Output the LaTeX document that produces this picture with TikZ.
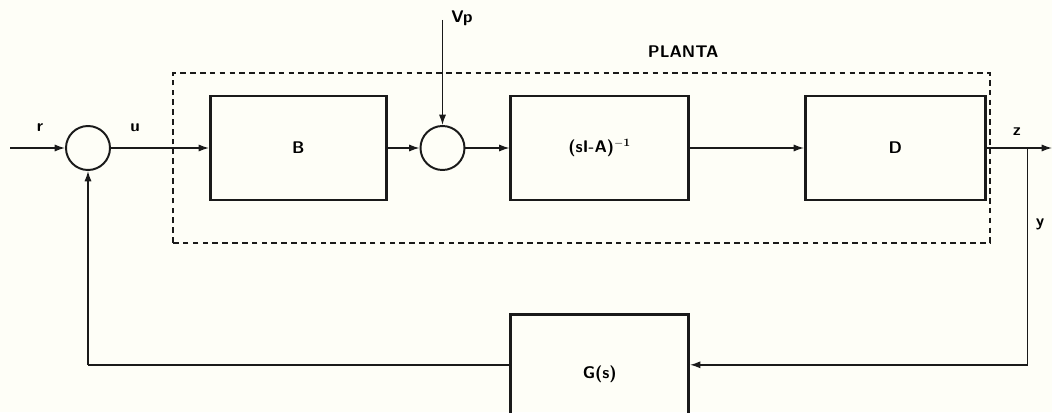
\documentclass[tikz,border=0pt]{standalone}
\usepackage{xcolor}
\usepackage{tikz}
\usetikzlibrary{arrows.meta, positioning}
\definecolor{planink}{HTML}{1A1A1A}
\definecolor{planpaper}{HTML}{FEFEF7}

\begin{document}
\begin{tikzpicture}[
        font=\sffamily\bfseries\large,
        box/.style={
            rectangle,
            draw=planink,
            line width=1.8pt,
            align=center,
            minimum width=4.4cm,
            minimum height=2.6cm
        },
        junction/.style={
            circle,
            draw=planink,
            line width=1.4pt,
            minimum size=1.1cm,
            inner sep=0pt
        },
        arrow/.style={-{Latex[length=2.6mm, width=1.8mm]}, line width=1pt, draw=planink},
        wire/.style={line width=1pt, draw=planink},
        frame/.style={dashed, dash pattern=on 4pt off 3pt, line width=1.2pt, draw=planink}
    ]
        \fill[planpaper] (0,0) rectangle (26.3,10.3);
        \useasboundingbox (0,0) rectangle (26.3,10.3);
        \clip (0,0) rectangle (26.3,10.3);

        \node[junction] (sumin) at (2.2,6.6) {};
        \node[box, right=2.45cm of sumin] (matb) {B};
        \node[junction, right=0.8cm of matb] (sumvp) {};
        \node[box, minimum width=4.45cm, right=1.1cm of sumvp] (resolv) {(sI-A)$^{\mathbf{-1}}$};
        \node[box, minimum width=4.5cm, right=2.85cm of resolv] (matd) {D};
        \node[box, minimum width=4.45cm, minimum height=3cm, below=2.8cm of resolv] (gfb) {G(s)};

        % planta
        \draw[frame] (4.33,4.23) rectangle (24.75,8.48);
        \node (planta) at (17.08,9.0) {PLANTA};

        \coordinate (rin) at (0.25,6.6);
        \coordinate (vpin) at (sumvp |- 0,9.8);
        \coordinate (zout) at (26.3,6.6);
        \coordinate (branch) at (25.68,6.6);
        \coordinate (fbright) at (branch |- 0,1.18);
        \coordinate (fbleft) at (sumin |- 0,1.18);

        \draw[arrow] (rin) -- (sumin);
        \draw[arrow] (sumin) -- (matb);
        \draw[arrow] (matb) -- (sumvp);
        \draw[arrow] (vpin) -- (sumvp);
        \draw[arrow] (sumvp) -- (resolv);
        \draw[arrow] (resolv) -- (matd);
        \draw[arrow] (matd) -- (zout);
        \draw[arrow] (branch) -- (fbright) -- (gfb.east |- fbright);
        \draw[wire] (gfb.west |- fbleft) -- (fbleft);
        \draw[arrow] (fbleft) -- (sumin);

        % labels
        \node (lr) at (1.0,7.1) {r};
        \node (lu) at (3.38,7.1) {u};
        \node (lvp) at (11.55,9.85) {Vp};
        \node (lz) at (25.42,7.0) {z};
        \node (ly) at (26.0,4.68) {y};
    \end{tikzpicture}
\end{document}
